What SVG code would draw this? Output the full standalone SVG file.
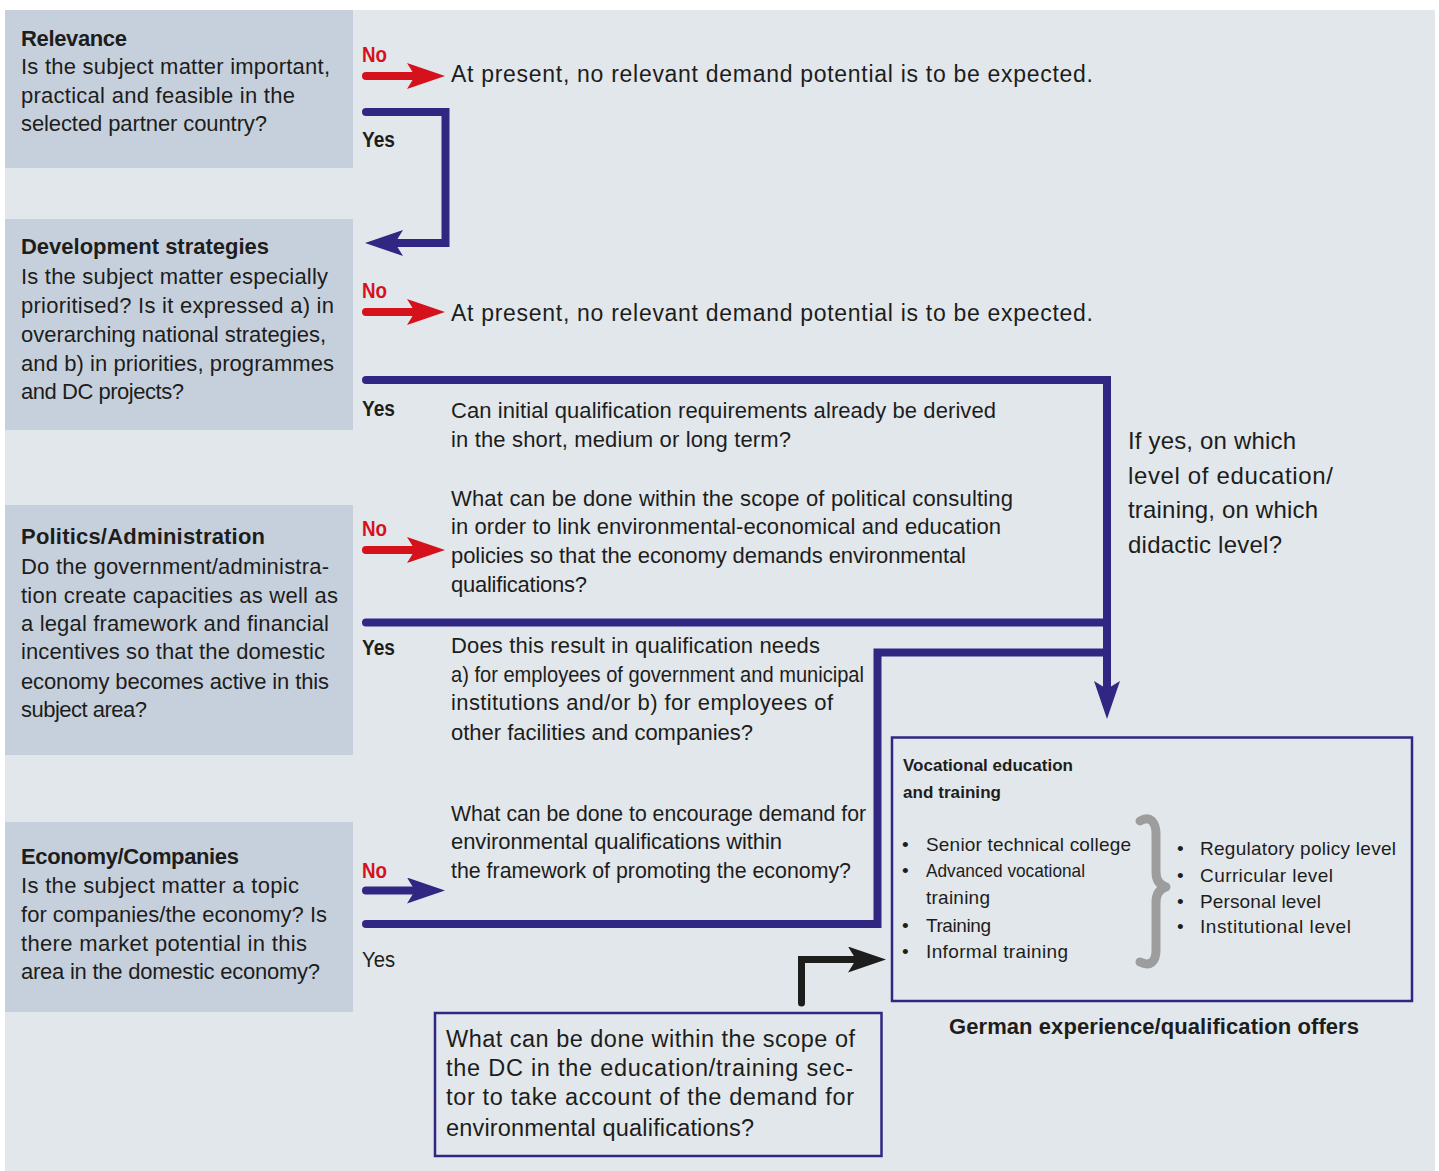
<svg xmlns="http://www.w3.org/2000/svg" width="1439" height="1171" viewBox="0 0 1439 1171">
<style>
text { font-family: 'Liberation Sans', Arial, sans-serif; fill: #1d1d1b; }
.p { font-size: 22px; }
.tt { font-size: 22px; font-weight: bold; }
.m { font-size: 22px; }
.big { font-size: 23px; }
.r { font-size: 24px; }
.no { font-size: 22px; font-weight: bold; fill: #d5121b; }
.yes { font-size: 22px; font-weight: bold; }
.yesn { font-size: 22px; }
.vh { font-size: 17px; font-weight: bold; }
.bl { font-size: 19px; }
.bx { font-size: 23.5px; }
.panel { fill: #c6d0dd; }
.blue { fill: none; stroke: #312783; stroke-width: 8; stroke-linecap: round; stroke-linejoin: miter; }
.red { fill: none; stroke: #d5121b; stroke-width: 8; stroke-linecap: round; }
.blk { fill: none; stroke: #1d1d1b; stroke-width: 7; stroke-linecap: round; stroke-linejoin: miter; }
.box { fill: none; stroke: #312783; stroke-width: 2.5; }
.brace { fill: none; stroke: #9d9d9d; stroke-width: 9; stroke-linecap: round; stroke-linejoin: round; }
</style>
<defs>
<marker id="hRed" viewBox="0 0 38 26" markerUnits="userSpaceOnUse" markerWidth="38" markerHeight="26" refX="8" refY="13" orient="auto"><path d="M0,0 L38,13 L0,26 L8,13 Z" fill="#d5121b"/></marker>
<marker id="hBlue" viewBox="0 0 38 26" markerUnits="userSpaceOnUse" markerWidth="38" markerHeight="26" refX="8" refY="13" orient="auto"><path d="M0,0 L38,13 L0,26 L8,13 Z" fill="#312783"/></marker>
<marker id="hBlk" viewBox="0 0 38 26" markerUnits="userSpaceOnUse" markerWidth="38" markerHeight="26" refX="8" refY="13" orient="auto"><path d="M0,0 L38,13 L0,26 L8,13 Z" fill="#1d1d1b"/></marker>
</defs>
<rect x="0" y="0" width="1439" height="1171" fill="#ffffff"/>
<rect x="5" y="10" width="1430" height="1161" fill="#e2e7ec"/>

<g id="relevance">
<rect class="panel" x="5" y="10" width="348" height="158"/>
<text class="tt" x="21" y="46" textLength="106" lengthAdjust="spacing">Relevance</text>
<text class="p" x="21" y="74" textLength="309" lengthAdjust="spacing">Is the subject matter important,</text>
<text class="p" x="21" y="103" textLength="274" lengthAdjust="spacing">practical and feasible in the</text>
<text class="p" x="21" y="131" textLength="246" lengthAdjust="spacing">selected partner country?</text>
</g>

<g id="development">
<rect class="panel" x="5" y="219" width="348" height="211"/>
<text class="tt" x="21" y="254" textLength="248" lengthAdjust="spacing">Development strategies</text>
<text class="p" x="21" y="284" textLength="307" lengthAdjust="spacing">Is the subject matter especially</text>
<text class="p" x="21" y="313" textLength="313" lengthAdjust="spacing">prioritised? Is it expressed a) in</text>
<text class="p" x="21" y="342" textLength="305" lengthAdjust="spacing">overarching national strategies,</text>
<text class="p" x="21" y="371" textLength="313" lengthAdjust="spacing">and b) in priorities, programmes</text>
<text class="p" x="21" y="399" textLength="163" lengthAdjust="spacing">and DC projects?</text>
</g>

<g id="politics">
<rect class="panel" x="5" y="505" width="348" height="250"/>
<text class="tt" x="21" y="544" textLength="244" lengthAdjust="spacing">Politics/Administration</text>
<text class="p" x="21" y="574" textLength="308" lengthAdjust="spacing">Do the government/administra-</text>
<text class="p" x="21" y="603" textLength="317" lengthAdjust="spacing">tion create capacities as well as</text>
<text class="p" x="21" y="631" textLength="308" lengthAdjust="spacing">a legal framework and financial</text>
<text class="p" x="21" y="659" textLength="304" lengthAdjust="spacing">incentives so that the domestic</text>
<text class="p" x="21" y="689" textLength="308" lengthAdjust="spacing">economy becomes active in this</text>
<text class="p" x="21" y="717" textLength="126" lengthAdjust="spacing">subject area?</text>
</g>

<g id="economy">
<rect class="panel" x="5" y="822" width="348" height="190"/>
<text class="tt" x="21" y="864" textLength="218" lengthAdjust="spacing">Economy/Companies</text>
<text class="p" x="21" y="893" textLength="278" lengthAdjust="spacing">Is the subject matter a topic</text>
<text class="p" x="21" y="922" textLength="306" lengthAdjust="spacing">for companies/the economy? Is</text>
<text class="p" x="21" y="951" textLength="286" lengthAdjust="spacing">there market potential in this</text>
<text class="p" x="21" y="979" textLength="299" lengthAdjust="spacing">area in the domestic economy?</text>
</g>

<g id="connectors">
<path class="red" d="M366,76 H415" marker-end="url(#hRed)"/>
<path class="blue" d="M366,112 H445.5 V243 H395" marker-end="url(#hBlue)"/>
<path class="red" d="M366,312 H415" marker-end="url(#hRed)"/>
<path class="blue" d="M366,380 H1107 V689" marker-end="url(#hBlue)"/>
<path class="red" d="M366,550 H415" marker-end="url(#hRed)"/>
<path class="blue" d="M366,622.5 H1107"/>
<path class="blue" d="M366,924 H877.5 V652.5 H1107"/>
<path class="blue" d="M366,890.5 H415" marker-end="url(#hBlue)"/>
<path class="blk" d="M801.5,1003 V959.5 H856" marker-end="url(#hBlk)"/>
</g>

<g id="labels">
<text class="no" x="362" y="62" textLength="25" lengthAdjust="spacingAndGlyphs">No</text>
<text class="yes" x="362" y="147" textLength="33" lengthAdjust="spacingAndGlyphs">Yes</text>
<text class="no" x="362" y="298" textLength="25" lengthAdjust="spacingAndGlyphs">No</text>
<text class="yes" x="362" y="416" textLength="33" lengthAdjust="spacingAndGlyphs">Yes</text>
<text class="no" x="362" y="536" textLength="25" lengthAdjust="spacingAndGlyphs">No</text>
<text class="yes" x="362" y="655" textLength="33" lengthAdjust="spacingAndGlyphs">Yes</text>
<text class="no" x="362" y="878" textLength="25" lengthAdjust="spacingAndGlyphs">No</text>
<text class="yesn" x="362" y="967" textLength="33" lengthAdjust="spacingAndGlyphs">Yes</text>
</g>

<g id="result1">
<text class="big" x="451" y="82" textLength="642" lengthAdjust="spacing">At present, no relevant demand potential is to be expected.</text>
</g>
<g id="result2">
<text class="big" x="451" y="321" textLength="642" lengthAdjust="spacing">At present, no relevant demand potential is to be expected.</text>
</g>

<g id="question-initial">
<text class="m" x="451" y="418" textLength="545" lengthAdjust="spacing">Can initial qualification requirements already be derived</text>
<text class="m" x="451" y="447" textLength="340" lengthAdjust="spacing">in the short, medium or long term?</text>
</g>

<g id="question-political">
<text class="m" x="451" y="506" textLength="562" lengthAdjust="spacing">What can be done within the scope of political consulting</text>
<text class="m" x="451" y="534" textLength="550" lengthAdjust="spacing">in order to link environmental-economical and education</text>
<text class="m" x="451" y="563" textLength="515" lengthAdjust="spacing">policies so that the economy demands environmental</text>
<text class="m" x="451" y="592" textLength="136" lengthAdjust="spacing">qualifications?</text>
</g>

<g id="question-needs">
<text class="m" x="451" y="653" textLength="369" lengthAdjust="spacing">Does this result in qualification needs</text>
<text class="m" x="451" y="682" textLength="413" lengthAdjust="spacingAndGlyphs">a) for employees of government and municipal</text>
<text class="m" x="451" y="710" textLength="382" lengthAdjust="spacing">institutions and/or b) for employees of</text>
<text class="m" x="451" y="740" textLength="302" lengthAdjust="spacing">other facilities and companies?</text>
</g>

<g id="question-encourage">
<text class="m" x="451" y="821" textLength="415" lengthAdjust="spacingAndGlyphs">What can be done to encourage demand for</text>
<text class="m" x="451" y="849" textLength="331" lengthAdjust="spacing">environmental qualifications within</text>
<text class="m" x="451" y="878" textLength="400" lengthAdjust="spacingAndGlyphs">the framework of promoting the economy?</text>
</g>

<g id="question-level">
<text class="r" x="1128" y="449" textLength="168" lengthAdjust="spacing">If yes, on which</text>
<text class="r" x="1128" y="484" textLength="205" lengthAdjust="spacing">level of education/</text>
<text class="r" x="1128" y="518" textLength="190" lengthAdjust="spacing">training, on which</text>
<text class="r" x="1128" y="553" textLength="154" lengthAdjust="spacing">didactic level?</text>
</g>

<g id="vocational">
<rect class="box" x="892" y="737.5" width="520" height="263.5"/>
<text class="vh" x="903" y="771" textLength="170" lengthAdjust="spacing">Vocational education</text>
<text class="vh" x="903" y="798" textLength="98" lengthAdjust="spacing">and training</text>
<text class="bl" x="902" y="851">•</text>
<text class="bl" x="926" y="851" textLength="205" lengthAdjust="spacing">Senior technical college</text>
<text class="bl" x="902" y="877">•</text>
<text class="bl" x="926" y="877" textLength="159" lengthAdjust="spacingAndGlyphs">Advanced vocational</text>
<text class="bl" x="926" y="904" textLength="64" lengthAdjust="spacing">training</text>
<text class="bl" x="902" y="932">•</text>
<text class="bl" x="926" y="932" textLength="65" lengthAdjust="spacing">Training</text>
<text class="bl" x="902" y="958">•</text>
<text class="bl" x="926" y="958" textLength="142" lengthAdjust="spacing">Informal training</text>
<path class="brace" d="M1140,821 C1150,815 1156,822 1156,834 L1156,872 C1156,880 1160,885 1166,887 C1160,889 1156,894 1156,902 L1156,950 C1156,962 1150,967 1140,962"/>
<text class="bl" x="1177" y="855">•</text>
<text class="bl" x="1200" y="855" textLength="196" lengthAdjust="spacing">Regulatory policy level</text>
<text class="bl" x="1177" y="882">•</text>
<text class="bl" x="1200" y="882" textLength="133" lengthAdjust="spacing">Curricular level</text>
<text class="bl" x="1177" y="908">•</text>
<text class="bl" x="1200" y="908" textLength="121" lengthAdjust="spacing">Personal level</text>
<text class="bl" x="1177" y="933">•</text>
<text class="bl" x="1200" y="933" textLength="151" lengthAdjust="spacing">Institutional level</text>
</g>

<g id="german-caption">
<text class="tt" x="949" y="1034" textLength="410" lengthAdjust="spacing">German experience/qualification offers</text>
</g>

<g id="dc-question">
<rect class="box" x="435" y="1013" width="446.5" height="143"/>
<text class="bx" x="446" y="1047" textLength="409" lengthAdjust="spacing">What can be done within the scope of</text>
<text class="bx" x="446" y="1076" textLength="407" lengthAdjust="spacing">the DC in the education/training sec-</text>
<text class="bx" x="446" y="1105" textLength="408" lengthAdjust="spacing">tor to take account of the demand for</text>
<text class="bx" x="446" y="1136" textLength="308" lengthAdjust="spacing">environmental qualifications?</text>
</g>
</svg>
